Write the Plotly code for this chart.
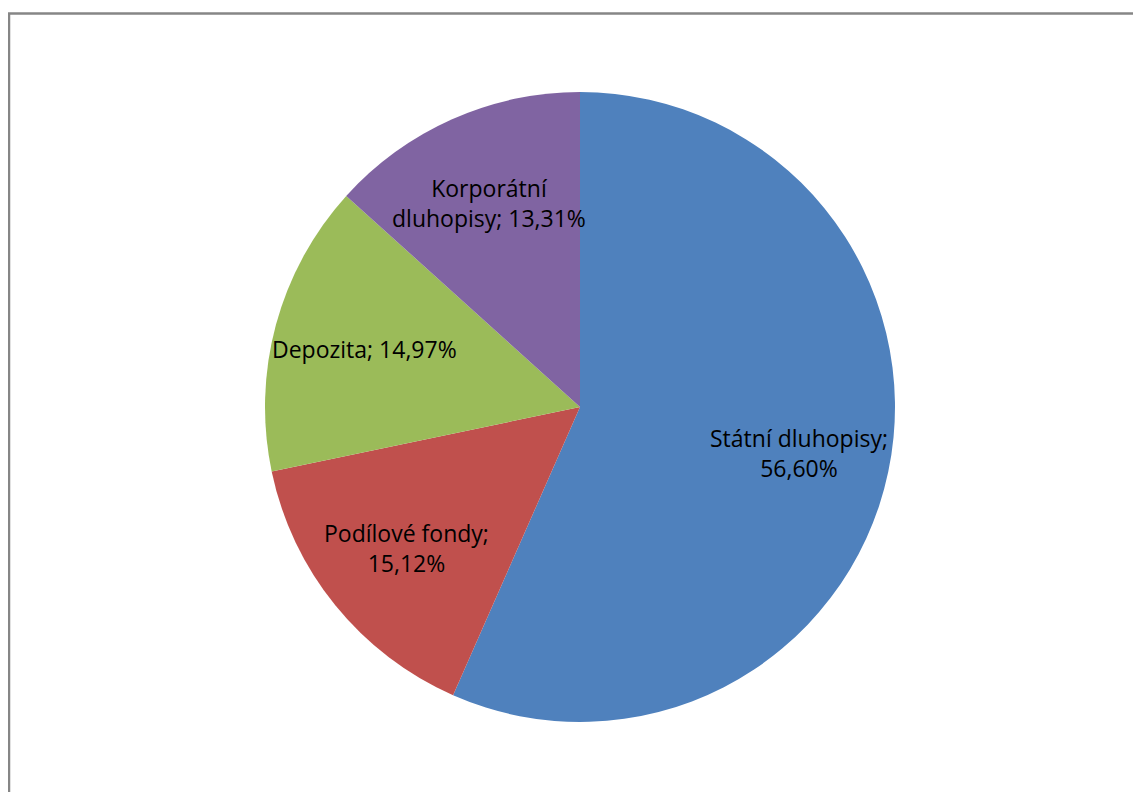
import math
import plotly.graph_objects as go

labels = ["Státní dluhopisy", "Podílové fondy", "Depozita", "Korporátní dluhopisy"]
values = [56.60, 15.12, 14.97, 13.31]
colors = ["#4F81BD", "#C0504D", "#9BBB59", "#8064A2"]
text_labels = ["Státní dluhopisy;<br>56,60%", "Podílové fondy;<br>15,12%",
               "Depozita; 14,97%", "Korporátní<br>dluhopisy; 13,31%"]

# page body adds an 8px offset; figure coordinates are relative to it
W, H = 1133, 784
cx, cy, r = 572, 399, 315
label_radius = 0.71  # fraction of pie radius where data labels sit (on slice bisector)

fig = go.Figure(go.Pie(
    labels=labels,
    values=values,
    textinfo="none",
    sort=False,
    direction="clockwise",
    rotation=0,
    marker=dict(colors=colors, line=dict(width=0)),
    showlegend=False,
    hoverinfo="label+percent",
    domain=dict(x=[(cx - r) / W, (cx + r) / W], y=[(H - cy - r) / H, (H - cy + r) / H]),
))

# data labels placed on each slice's bisector, derived from the values
total = sum(values)
annotations = []
cum = 0.0
for v, t in zip(values, text_labels):
    theta = math.radians((cum + v / 2) / total * 360.0)
    cum += v
    px = cx + label_radius * r * math.sin(theta)
    py = cy - label_radius * r * math.cos(theta)
    annotations.append(dict(
        x=px / W, y=(H - py) / H, xref="paper", yref="paper",
        text=t, showarrow=False, xanchor="center", yanchor="middle", align="center",
        font=dict(family="Open Sans", size=23, color="#000000"),
    ))

fig.update_layout(
    width=W, height=H,
    margin=dict(l=0, r=0, t=0, b=0),
    paper_bgcolor="white",
    annotations=annotations,
    shapes=[dict(type="rect", xref="paper", yref="paper",
                 x0=1 / W, x1=1.02, y0=-0.02, y1=1 - 5.5 / H,
                 line=dict(color="#868686", width=2.5), fillcolor="rgba(0,0,0,0)")],
)

fig.write_html("out.html")
